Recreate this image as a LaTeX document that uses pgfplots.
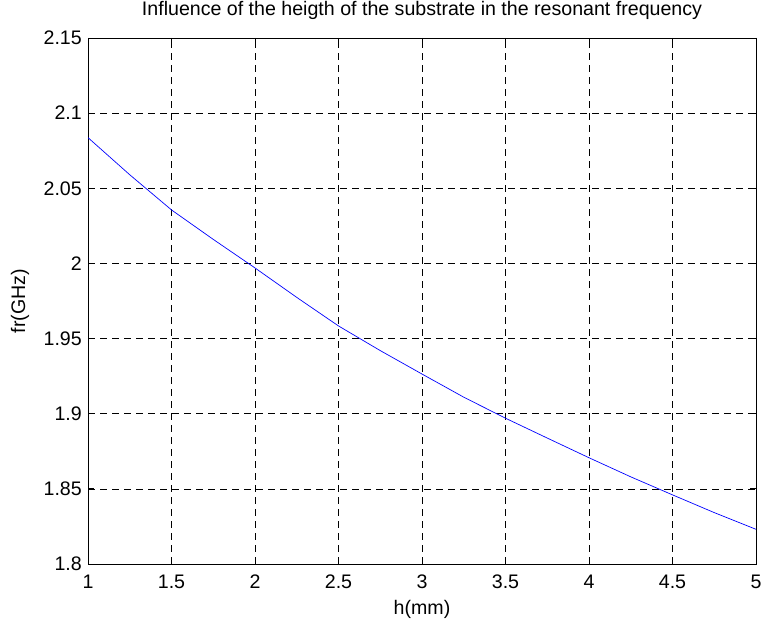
\documentclass[border=0pt]{standalone}
\usepackage{pgfplots}
\pgfplotsset{compat=1.18}
\usepackage{fontspec}
\setmainfont{Liberation Sans}
\begin{document}
\begin{tikzpicture}[x=1pt,y=1pt]
\useasboundingbox (0,0) rectangle (761,621);
\begin{axis}[
  at={(88pt,57pt)}, anchor=south west,
  scale only axis, width=668pt, height=526pt,
  xmin=1, xmax=5, ymin=1.8, ymax=2.15,
  xtick={1,1.5,...,5}, ytick={1.8,1.85,...,2.15},
  yticklabels={1.8,1.85,1.9,1.95,2,2.05,2.1,2.15},
  xticklabels={1,1.5,2,2.5,3,3.5,4,4.5,5},
  tick align=inside, major tick length=6pt,
  xtick pos=both, ytick pos=both,
  grid=major,
  major grid style={black, line width=0.6pt, dash pattern=on 7pt off 5pt},
  axis line style={black, line width=0.8pt},
  tick style={black, line width=0.8pt},
  tick label style={font=\fontsize{19.6}{21}\selectfont, inner sep=0pt},
  xticklabel style={anchor=north, yshift=-11pt},
  yticklabel style={anchor=east, xshift=-6pt},
  label style={font=\fontsize{19.6}{21}\selectfont},
  title style={font=\fontsize{19.6}{21}\selectfont, at={(axis description cs:0.5,1)}, anchor=base, yshift=16pt, inner sep=0pt},
  title={Influence of the heigth of the substrate in the resonant frequency},
  xlabel={h(mm)}, ylabel={fr(GHz)},
  xlabel style={at={(axis description cs:0.5,0)}, anchor=base, yshift=-51pt, inner sep=0pt},
  ylabel style={at={(axis description cs:-0.1018,0.5)}, anchor=center, inner sep=0pt},
]
\addplot[blue, line width=0.7pt] coordinates {
(1,2.0837) (1.25,2.0590) (1.5,2.0356) (1.75,2.0160) (2,1.9970)
(2.25,1.9774) (2.5,1.9584) (2.75,1.9420) (3,1.9264) (3.25,1.9110)
(3.5,1.8970) (3.75,1.8838) (4,1.8707) (4.25,1.8580) (4.5,1.8460)
(4.75,1.8342) (5,1.8231)
};
\end{axis}
\end{tikzpicture}
\end{document}
